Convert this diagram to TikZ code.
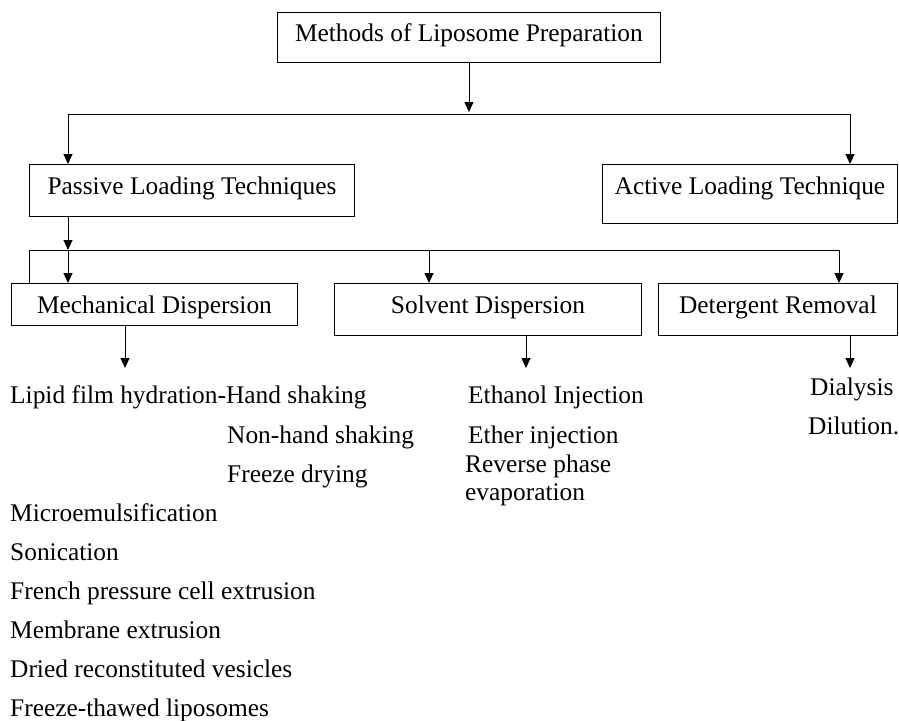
\documentclass[tikz,border=0pt]{standalone}
\usepackage{fontspec}
\setmainfont{Liberation Serif}
\usetikzlibrary{arrows.meta,positioning,calc}

\begin{document}
\begin{tikzpicture}[
  x=1pt, y=-1pt,
  box/.style={draw, line width=0.9pt, anchor=north west, inner xsep=0pt, inner ysep=0pt, font=\fontsize{25.4}{30}\selectfont},
  leaf/.style={anchor=base west, inner sep=0pt, font=\fontsize{25.4}{30}\selectfont},
  arrow/.style={-{Triangle[length=10pt,width=9pt]}, line width=0.9pt},
  bus/.style={line width=0.9pt}
]
\useasboundingbox (0,0) rectangle (899,720);

% method boxes
\node[box, minimum width=383pt, text height=29pt, text depth=21pt] (methods) at (277,12) {Methods of Liposome Preparation};
\node[box, minimum width=325pt, text height=30pt, text depth=22pt] (passive) at (29,164) {Passive Loading Techniques};
\node[box, minimum width=295pt, text height=30pt, text depth=29pt] (active) at (602,164) {Active Loading Technique};
\node[box, minimum width=286pt, text height=30pt, text depth=12pt] (mech) at (11,283) {Mechanical Dispersion};
\node[box, minimum width=307pt, text height=30pt, text depth=22pt] (solv) at (334,283) {Solvent Dispersion};
\node[box, minimum width=239pt, text height=30pt, text depth=22pt] (deter) at (658,283) {Detergent Removal};

% lists under each box
\node[leaf] (lipid) at (10,403) {Lipid film hydration-Hand shaking};
\node[leaf] (nonhand) at (227,443) {Non-hand shaking};
\node[leaf] (fdry) at (227,482) {Freeze drying};
\node[leaf] (micro) at (10,521) {Microemulsification};
\node[leaf] (sonic) at (10,560) {Sonication};
\node[leaf] (french) at (10,599) {French pressure cell extrusion};
\node[leaf] (membr) at (10,638) {Membrane extrusion};
\node[leaf] (dried) at (10,677) {Dried reconstituted vesicles};
\node[leaf] (fthaw) at (10,716) {Freeze-thawed liposomes};
\node[leaf] (ethanol) at (468,403) {Ethanol Injection};
\node[leaf] (ether) at (468,443) {Ether injection};
\node[leaf, align=left, font=\fontsize{25.4}{28}\selectfont] (reverse) at (465,500) {Reverse phase\\evaporation};
\node[leaf] (dialysis) at (810,395) {Dialysis};
\node[leaf] (dilution) at (808,434) {Dilution.};

% first level
\coordinate (busA) at (methods.south |- 0,112);
\coordinate (busL) at (68,114);
\coordinate (busR) at (850,114);
\draw[arrow] (methods.south) -- (busA);
\draw[bus] (busL) -- (busR);
\draw[arrow] (busL) -- (busL |- passive.north);
\draw[arrow] (busR) -- (busR |- active.north);

% second level
\coordinate (subW) at (29,250);
\coordinate (subL) at (68,250);
\coordinate (subM) at (429,250);
\coordinate (subE) at (839,250);
\draw[arrow] (busL |- passive.south) -- (subL);
\draw[bus] (subW |- mech.north) -- (subW) -- (subE);
\draw[arrow] (subL) -- (subL |- mech.north);
\draw[arrow] (subM) -- (subM |- solv.north);
\draw[arrow] (subE) -- (subE |- deter.north);

% down to the lists
\coordinate (mechOut) at (125,368);
\coordinate (solvOut) at (526,368);
\coordinate (deterOut) at (850,368);
\draw[arrow] (mechOut |- mech.south) -- (mechOut);
\draw[arrow] (solvOut |- solv.south) -- (solvOut);
\draw[arrow] (deterOut |- deter.south) -- (deterOut);
\end{tikzpicture}
\end{document}
